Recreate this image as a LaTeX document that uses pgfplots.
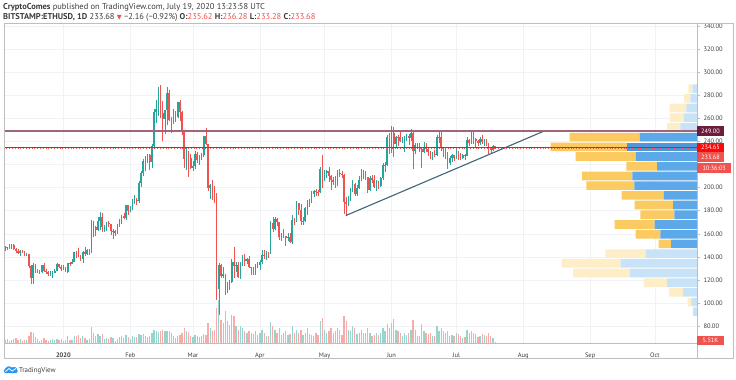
\documentclass[border=0pt]{standalone}
\usepackage{pgfplots}
\pgfplotsset{compat=1.18}
\usepackage{pgfplotstable}
\usepackage{fontspec}
\setmainfont{PT Sans}
\newfontfamily\symfont{DejaVu Sans}
\definecolor{upc}{RGB}{38,166,154}
\definecolor{dnc}{RGB}{239,83,80}
\definecolor{upv}{RGB}{150,212,206}
\definecolor{dnv}{RGB}{247,172,170}
\definecolor{gridc}{RGB}{240,242,246}
\definecolor{framec}{RGB}{190,190,190}
\definecolor{resc}{RGB}{160,100,125}
\definecolor{resbox}{RGB}{110,28,62}
\definecolor{redl}{RGB}{238,25,25}
\definecolor{redbox}{RGB}{250,10,10}
\definecolor{trendc}{RGB}{62,102,118}
\definecolor{vpyd}{RGB}{251,202,96}
\definecolor{vpbd}{RGB}{92,168,232}
\definecolor{vpbp}{RGB}{80,150,218}
\definecolor{vpyl}{RGB}{253,238,200}
\definecolor{vpbl}{RGB}{200,226,247}
\definecolor{txt}{RGB}{60,60,60}
\definecolor{tvblue}{RGB}{41,150,240}

\pgfplotstableread{
d o h l c vol
-27 146.7 149.3 145.5 148.1 20
-26 148.1 149.0 146.0 148.4 25
-25 148.4 151.0 147.0 147.2 15
-24 147.2 151.6 146.6 150.5 18
-23 150.5 151.3 146.0 147.3 22
-22 147.3 148.0 143.5 145.5 28
-21 145.5 146.5 142.7 143.4 20
-20 143.4 145.8 141.0 144.8 22
-19 144.8 145.8 143.5 144.7 15
-18 144.7 145.2 141.2 141.8 18
-17 141.8 143.5 140.7 142.4 20
-16 142.4 142.8 130.5 132.5 45
-15 132.5 133.2 116.3 122.0 66
-14 122.0 134.5 117.0 133.0 60
-13 133.0 134.0 126.0 128.0 35
-12 128.0 129.5 126.2 128.2 25
-11 128.2 128.5 125.6 126.8 15
-10 126.8 133.4 126.5 132.6 20
-9 132.6 135.0 127.0 127.8 30
-8 127.8 129.8 125.5 127.2 20
-7 127.2 127.5 123.5 125.0 15
-6 125.0 127.5 123.8 125.6 18
-5 125.6 127.4 122.0 126.2 22
-4 126.2 129.5 125.8 128.1 18
-3 128.1 135.0 127.6 133.8 25
-2 133.8 134.0 130.8 131.5 20
-1 131.5 133.0 128.2 129.2 22
0 129.2 133.0 128.7 130.8 15
1 130.8 130.9 126.9 127.2 20
2 127.2 135.0 125.9 134.4 40
3 134.4 135.8 132.5 134.2 20
4 134.2 138.0 134.0 135.4 18
5 135.4 144.5 135.2 144.2 45
6 144.2 145.0 139.5 142.6 40
7 142.6 148.0 139.6 141.0 50
8 141.0 141.5 136.5 138.2 30
9 138.2 145.5 135.0 144.0 40
10 144.0 148.2 140.5 142.3 30
11 142.3 146.5 141.4 146.1 20
12 146.1 146.6 141.9 143.5 25
13 143.5 171.8 143.0 165.8 96
14 165.8 171.0 157.5 166.0 60
15 166.0 167.0 157.9 163.6 40
16 163.6 174.6 162.7 171.5 55
17 171.5 179.0 163.0 174.2 45
18 174.2 178.0 161.2 166.3 55
19 166.3 168.0 162.0 167.0 25
20 167.0 170.0 162.5 169.5 30
21 169.5 171.5 165.5 168.1 25
22 168.1 168.4 158.6 162.2 35
23 162.2 163.8 155.3 162.8 30
24 162.8 163.3 158.0 160.4 15
25 160.4 168.3 159.8 167.8 25
26 167.8 172.6 165.5 170.1 35
27 170.1 176.6 168.7 175.6 45
28 175.6 178.2 172.5 173.7 30
29 173.7 185.0 172.0 184.7 50
30 184.7 185.0 176.5 179.9 35
31 179.9 184.2 178.5 183.5 25
32 183.5 190.0 180.8 188.6 40
33 188.6 194.0 186.0 189.5 35
34 189.5 191.0 184.8 188.3 35
35 188.3 206.0 186.7 203.8 55
36 203.8 214.0 200.3 212.7 50
37 212.7 224.5 210.0 223.0 55
38 223.0 227.0 214.0 223.1 40
39 223.1 229.5 221.0 228.5 35
40 228.5 229.3 215.0 222.6 45
41 222.6 238.0 217.0 236.4 60
42 236.4 268.0 235.0 265.4 80
43 265.4 276.0 256.0 268.2 70
44 268.2 287.0 262.0 284.3 65
45 284.3 288.6 260.0 264.6 70
46 264.6 275.0 240.0 259.0 80
47 259.0 267.0 246.0 267.0 75
48 267.0 287.0 254.0 282.3 70
49 282.3 284.3 257.5 258.6 75
50 258.6 261.0 247.0 257.8 60
51 257.8 268.0 255.0 265.2 45
52 265.2 266.0 256.5 261.3 30
53 261.3 274.5 260.0 274.0 40
54 274.0 276.0 258.0 265.5 50
55 265.5 266.0 245.5 248.2 60
56 248.2 249.0 217.0 225.2 90
57 225.2 234.0 215.5 227.3 70
58 227.3 232.0 209.0 225.8 65
59 225.8 229.5 216.0 217.0 45
60 217.0 223.0 214.5 218.5 35
61 218.5 232.0 216.5 229.0 50
62 229.0 230.5 221.5 224.0 45
63 224.0 228.0 220.0 224.2 35
64 224.2 230.0 223.5 228.0 40
65 228.0 245.0 226.8 244.5 55
66 244.5 251.5 236.5 237.5 50
67 237.5 238.0 197.5 199.5 120
68 199.5 203.5 190.5 202.0 90
69 202.0 206.5 189.5 200.5 70
70 200.5 201.5 186.5 194.5 80
71 194.5 195.5 103.0 112.0 210
72 112.0 135.0 90.0 133.0 258
73 133.0 133.5 122.0 123.5 140
74 123.5 131.5 121.5 125.3 120
75 125.3 125.5 107.0 110.5 190
76 110.5 118.0 108.5 116.5 130
77 116.5 120.0 111.0 118.3 110
78 118.3 138.0 117.5 136.0 170
79 136.0 149.0 122.0 132.0 160
80 132.0 136.0 127.0 132.7 100
81 132.7 135.5 121.5 122.5 80
82 122.5 136.0 120.5 135.3 100
83 135.3 142.0 132.5 138.3 90
84 138.3 142.5 132.5 136.3 70
85 136.3 139.0 133.8 138.5 60
86 138.5 141.0 130.0 131.5 70
87 131.5 131.6 124.0 131.0 60
88 131.0 131.5 124.5 125.0 55
89 125.0 134.0 124.5 132.0 70
90 132.0 135.5 130.6 133.2 50
91 133.2 137.0 128.5 135.8 60
92 135.8 146.0 133.5 141.5 80
93 141.5 146.2 138.5 141.2 60
94 141.2 145.5 137.5 143.5 45
95 143.5 144.5 139.0 142.8 40
96 142.8 171.5 142.3 169.5 126
97 169.5 174.3 162.0 164.0 100
98 164.0 174.5 163.5 172.6 80
99 172.6 173.5 166.5 170.0 60
100 170.0 170.5 154.5 157.5 90
101 157.5 160.5 154.0 158.2 50
102 158.2 164.5 156.0 158.0 60
103 158.0 158.2 149.5 156.5 70
104 156.5 160.5 154.0 157.5 50
105 157.5 161.0 152.0 153.0 55
106 153.0 176.0 151.0 172.0 100
107 172.0 174.0 168.0 170.5 60
108 170.5 188.0 170.0 186.5 80
109 186.5 187.0 176.0 180.5 60
110 180.5 186.0 167.5 171.0 80
111 171.0 175.0 168.0 171.5 50
112 171.5 183.0 170.5 182.0 60
113 182.0 189.5 176.5 185.0 90
114 185.0 190.5 183.0 188.0 55
115 188.0 197.5 186.5 194.5 50
116 194.5 198.0 192.0 197.0 45
117 197.0 199.0 193.0 196.5 60
118 196.5 198.0 192.5 196.0 50
119 196.0 218.0 195.0 216.0 130
120 216.0 228.0 200.0 206.5 150
121 206.5 215.0 205.5 212.5 80
122 212.5 215.5 208.5 214.0 60
123 214.0 217.5 205.0 210.0 70
124 210.0 211.0 198.0 207.0 90
125 207.0 209.5 202.5 205.0 60
126 205.0 210.0 199.5 203.5 70
127 203.5 215.0 201.0 212.5 90
128 212.5 216.5 209.5 212.0 80
129 212.0 214.5 208.0 211.0 50
130 211.0 211.5 177.0 187.5 162
131 187.5 192.0 175.5 186.0 130
132 186.0 192.5 184.0 189.5 80
133 189.5 200.0 188.0 198.5 70
134 198.5 207.0 196.0 203.0 100
135 203.0 204.0 193.0 194.5 90
136 194.5 202.0 193.0 200.0 55
137 200.0 210.0 199.0 207.0 60
138 207.0 216.0 205.5 214.0 80
139 214.0 215.0 207.5 213.5 60
140 213.5 214.5 206.5 209.0 60
141 209.0 209.5 195.0 198.0 90
142 198.0 210.0 197.0 208.0 60
143 208.0 210.5 204.0 207.0 40
144 207.0 210.5 199.5 200.5 50
145 200.5 206.5 197.5 204.5 60
146 204.5 205.5 198.5 201.0 50
147 201.0 209.5 200.5 208.5 60
148 208.5 221.0 206.5 219.5 90
149 219.5 222.5 213.5 220.0 70
150 220.0 245.5 219.0 243.5 114
151 243.5 247.0 229.0 231.0 90
152 231.0 253.0 230.0 247.5 120
153 247.5 252.5 226.5 237.5 144
154 237.5 245.0 235.0 244.0 80
155 244.0 245.5 236.0 243.5 70
156 243.5 248.5 239.5 240.5 60
157 240.5 244.0 239.0 242.0 40
158 242.0 245.0 231.0 244.0 60
159 244.0 246.5 240.5 244.5 50
160 244.5 246.0 236.5 243.0 60
161 243.0 250.5 240.5 247.0 80
162 247.0 249.5 216.0 231.5 138
163 231.5 238.5 229.5 237.0 80
164 237.0 239.0 233.5 237.5 40
165 237.5 238.5 230.5 233.0 40
166 233.0 234.0 217.0 230.5 114
167 230.5 239.5 230.0 235.5 70
168 235.5 238.5 230.5 233.0 60
169 233.0 234.0 227.0 230.5 55
170 230.5 231.5 224.5 228.0 60
171 228.0 231.0 224.0 229.5 40
172 229.5 232.5 226.5 228.0 40
173 228.0 245.5 227.5 243.5 100
174 243.5 249.0 238.5 244.0 70
175 244.0 248.0 232.0 234.5 90
176 234.5 235.0 226.5 232.0 70
177 232.0 233.0 224.5 229.5 60
178 229.5 231.0 216.5 221.5 70
179 221.5 227.0 219.5 225.5 40
180 225.5 229.5 222.5 228.0 50
181 228.0 228.5 223.0 226.0 45
182 226.0 233.0 225.0 231.0 60
183 231.0 232.0 223.5 229.5 55
184 229.5 230.0 223.5 226.0 40
185 226.0 229.5 224.5 228.5 30
186 228.5 229.0 224.0 227.5 35
187 227.5 243.5 227.0 241.5 80
188 241.5 242.0 236.0 238.5 60
189 238.5 248.0 237.5 246.5 75
190 246.5 248.0 238.0 242.5 60
191 242.5 243.0 235.5 240.5 55
192 240.5 241.5 236.0 239.0 35
193 239.0 244.0 236.5 242.5 40
194 242.5 245.5 237.5 239.5 55
195 239.5 242.0 236.0 240.5 50
196 240.5 242.0 236.0 238.5 45
197 238.5 239.0 229.0 233.0 60
198 233.0 234.5 230.0 232.5 40
199 232.5 237.0 231.5 235.6 30
200 235.62 236.28 233.28 233.68 5.51
}\eth

\pgfplotstableread{
p bp bd bl yd yl
92.5 0 0 4.0 0 0
100.9 0 0 5.7 0 3.7
109.3 0 0 14.0 0 14.0
117.7 0 0 30.0 0 23.3
126.1 0 0 67.3 0 56.7
134.5 0 0 76.3 0 59.0
142.9 0 0 51.3 0 40.3
151.3 0 26.0 0 12.3 0
159.7 0 36.7 0 24.7 0
168.1 0 42.3 0 40.0 0
176.5 0 22.7 0 34.0 0
184.9 0 24.0 0 38.3 0
193.3 0 33.3 0 42.0 0
201.7 0 62.7 0 48.0 0
210.1 0 64.7 0 50.3 0
218.5 0 40.0 0 30.7 0
226.9 0 61.3 0 60.0 0
235.3 70.0 0 0 76.3 0
243.7 0 57.3 0 70.0 0
252.1 0 0 16.7 0 13.3
260.5 0 0 13.3 0 14.0
268.9 0 0 10.7 0 16.7
277.3 0 0 6.7 0 6.3
285.7 0 0 4.7 0 4.0
}\vp

\pgfplotsset{upf/.style={x filter/.expression={\thisrow{c}>=\thisrow{o} ? x : nan}},
         dnf/.style={x filter/.expression={\thisrow{c}<\thisrow{o} ? x : nan}}}

\begin{document}
\begin{tikzpicture}[x=1bp,y=1bp]
\path[use as bounding box] (0,0) rectangle (736,379);

\begin{axis}[at={(5bp,36bp)}, anchor=south west, width=692bp, height=320bp, scale only axis,
  xmin=-27.05, xmax=293.5, ymin=65.5, ymax=342.5, enlargelimits=false,
  axis line style={draw=none},
  xtick={0,31,60,91,121,152,182,213,244,274},
  xticklabels={\textbf{2020},Feb,Mar,Apr,May,Jun,Jul,Aug,Sep,Oct},
  ytick={80,100,...,340},
  yticklabels={80.00,100.00,120.00,140.00,160.00,180.00,200.00,,240.00,260.00,280.00,300.00,320.00,340.00},
  ytick pos=right, yticklabel pos=right, xtick pos=bottom,
  tick align=outside, major tick length=3bp,
  xtick style={draw=none}, ytick style={draw=framec, line width=0.5bp},
  xticklabel style={font=\fontsize{6.5}{7}\selectfont, text=txt, anchor=base, yshift=-11bp},
  yticklabel style={font=\fontsize{6.5}{7}\selectfont, text=txt, anchor=west, xshift=0bp},
  grid=major, major grid style={draw=gridc, line width=0.6bp},
  clip=true]
% volume
\addplot[draw=upv, line width=1.3bp, upf, quiver={u=0,v=\thisrow{vol}*0.1439}] table[x=d, y expr=65.5] {\eth};
\addplot[draw=dnv, line width=1.3bp, dnf, quiver={u=0,v=\thisrow{vol}*0.1439}] table[x=d, y expr=65.5] {\eth};
% wicks
\addplot[draw=upc, line width=0.6bp, upf, quiver={u=0,v=\thisrow{h}-\thisrow{l}}] table[x=d, y=l] {\eth};
\addplot[draw=dnc, line width=0.6bp, dnf, quiver={u=0,v=\thisrow{h}-\thisrow{l}}] table[x=d, y=l] {\eth};
% bodies
\addplot[draw=upc, line width=1.6bp, upf, quiver={u=0,v=\thisrow{c}-\thisrow{o}}] table[x=d, y=o] {\eth};
\addplot[draw=dnc, line width=1.6bp, dnf, quiver={u=0,v=\thisrow{c}-\thisrow{o}}] table[x=d, y=o] {\eth};
% trend line
\addplot[draw=trendc, line width=1.1bp] coordinates {(130.8,175.8) (222.7,249.0)};
\end{axis}

\begin{axis}[at={(5bp,36bp)}, anchor=south west, width=692bp, height=320bp, scale only axis,
  xmin=0, xmax=692, x dir=reverse, ymin=65.5, ymax=342.5, enlargelimits=false,
  axis lines=none, xbar stacked, bar width=7.5, clip=true]
\addplot[fill=vpbp, draw=none] table[x=bp, y=p] {\vp};
\addplot[fill=vpbd, draw=none] table[x=bd, y=p] {\vp};
\addplot[fill=vpbl, draw=none] table[x=bl, y=p] {\vp};
\addplot[fill=vpyd, draw=none] table[x=yd, y=p] {\vp};
\addplot[fill=vpyl, draw=none] table[x=yl, y=p] {\vp};
\end{axis}

\begin{axis}[at={(5bp,36bp)}, anchor=south west, width=692bp, height=320bp, scale only axis,
  xmin=0, xmax=692, x dir=reverse, ymin=65.5, ymax=342.5, enlargelimits=false,
  axis lines=none, clip=true]
\addplot[draw=resc, line width=1.6bp] coordinates {(0,249) (692,249)};
\addplot[draw=dnc, line width=0.8bp, dotted] coordinates {(0,233.68) (692,233.68)};
\addplot[draw=redl, line width=1.2bp] coordinates {(0,234.65) (692,234.65)};
\end{axis}

% frame
\draw[framec, line width=0.6] (4,356) rectangle (733,21);
\draw[framec, line width=0.6] (697,356) -- (697,21);
\draw[framec, line width=0.6] (4,36) -- (697,36);

% price labels
\tikzset{plab/.style={text=white, font=\fontsize{6.3}{7}\selectfont, inner sep=0pt, minimum height=9.5bp, anchor=west}}
\node[plab, fill=resbox, minimum width=26.5bp] at (697,247.9) {249.00};
\node[plab, fill=redbox, minimum width=26.5bp] at (697,231.3) {234.65};
\node[plab, fill=dnc, minimum width=26.5bp] at (697,221.8) {233.68};
\node[plab, fill=dnc, minimum width=34bp] at (697,211.0) {10:36:03};
\node[plab, fill=dnc, minimum width=26.5bp] at (697,38.3) {5.51K};

% header
\node[anchor=base west, inner sep=0pt, text=txt, font=\fontsize{8.5}{9}\selectfont] at (3,369.5)
  {\textbf{CryptoComes} published on TradingView.com, July 19, 2020 13:23:58 UTC};
\node[anchor=base west, inner sep=0pt, text=txt, font=\fontsize{8.5}{9}\selectfont] at (3,360)
  {\textbf{BITSTAMP:ETHUSD, 1D} 233.68 {\color{dnc}\symfont\fontsize{6.5}{7}\selectfont ▼} −2.16 (−0.92\%) \textbf{O:}\textcolor{dnc}{235.62} \textbf{H:}\textcolor{dnc}{236.28} \textbf{L:}\textcolor{dnc}{233.28} \textbf{C:}\textcolor{dnc}{233.68}};

% TradingView logo
\fill[tvblue, rounded corners=1.2] (4,6) -- (17.5,6) -- (17.5,9.5) -- (15,12.5) -- (12,11.2) -- (8.5,13.2) -- (4,9.5) -- cycle;
\draw[white, line width=0.8] (5.5,7.5) -- (9,10.5) -- (12,8) -- (16,10.5);
\node[anchor=base west, inner sep=0pt, text=txt, font=\fontsize{7}{8}\selectfont] at (19,7) {TradingView};
\end{tikzpicture}
\end{document}
